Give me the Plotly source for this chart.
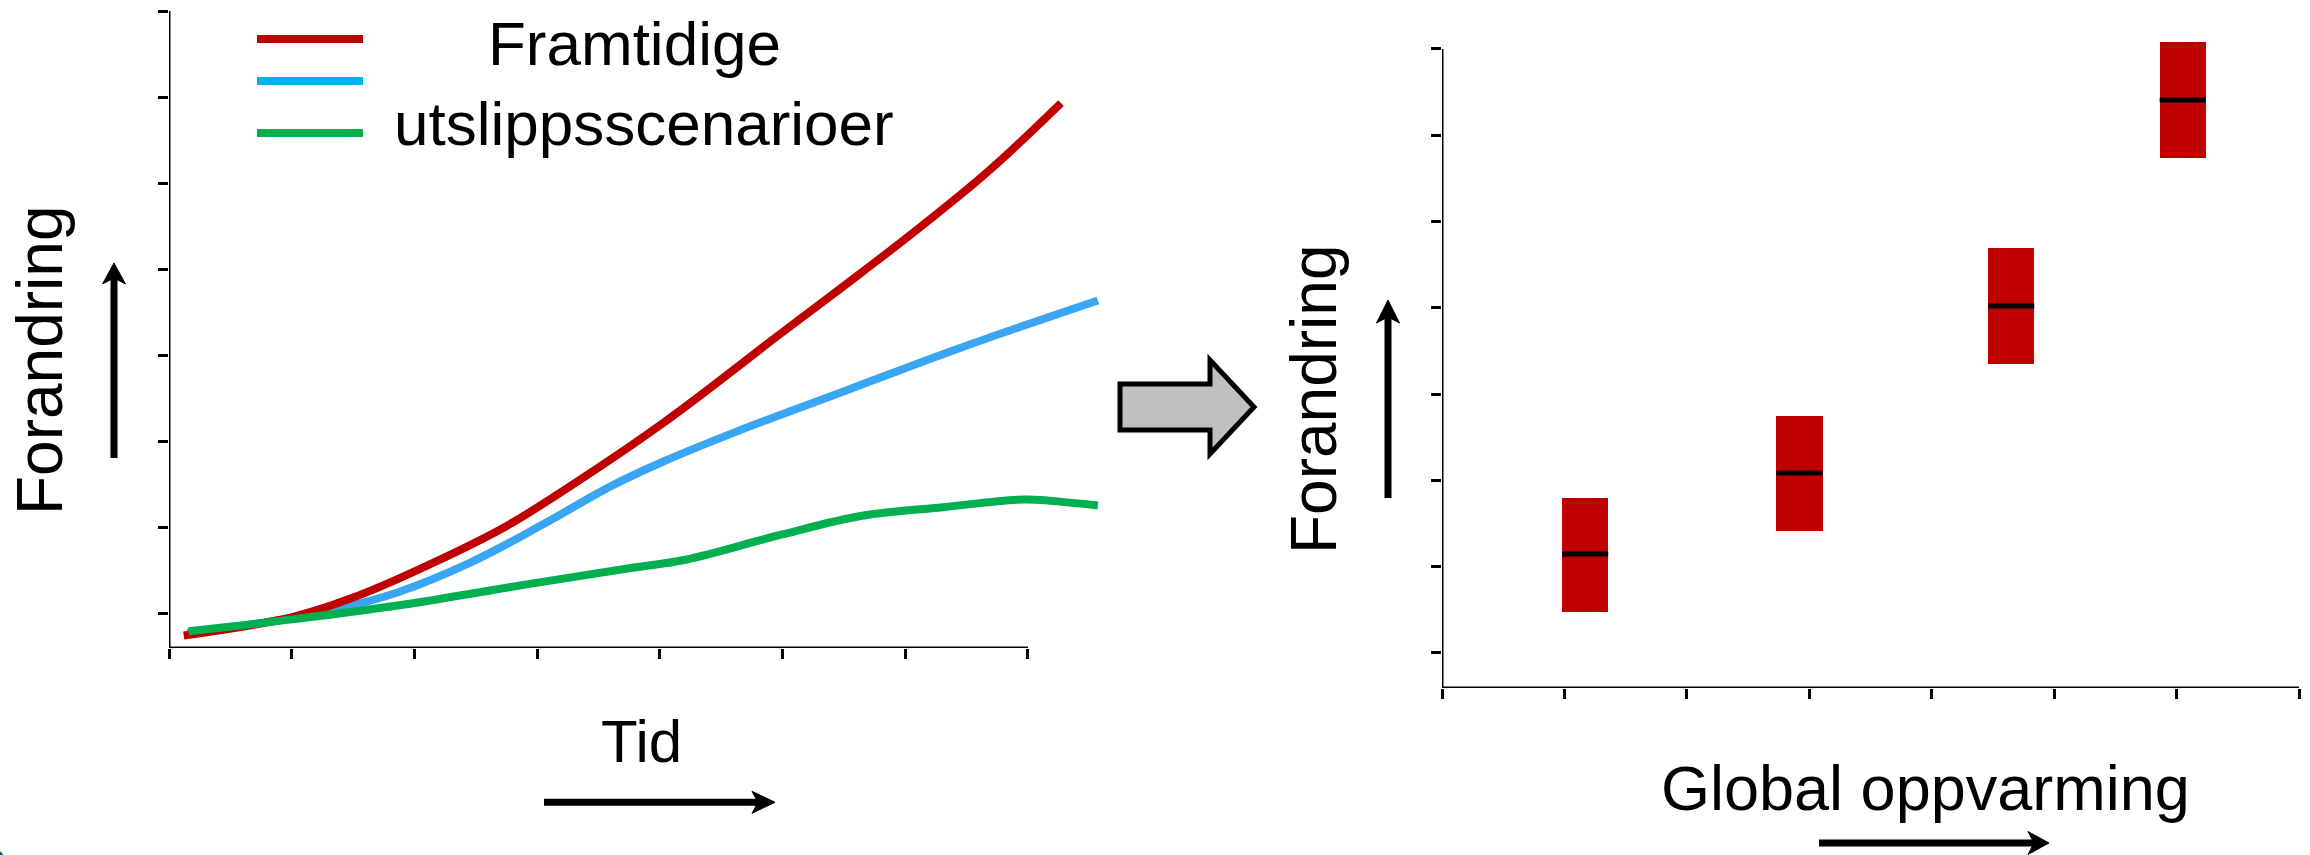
import plotly.graph_objects as go

# ---------------- data (in tick units) ----------------
red_x = [0.12, 1.02, 1.50, 1.98, 2.70, 3.19, 4.03, 4.99, 5.65, 6.13, 6.67, 7.27]
red_y = [0.75, 0.97, 1.19, 1.48, 1.98, 2.41, 3.22, 4.26, 4.97, 5.50, 6.13, 6.93]

blue_x = [0.15, 1.00, 1.38, 1.86, 2.46, 3.06, 3.61, 4.03, 4.63, 5.53, 6.43, 7.57]
blue_y = [0.78, 0.95, 1.06, 1.25, 1.60, 2.05, 2.49, 2.77, 3.12, 3.60, 4.08, 4.64]

green_x = [0.16, 1.02, 1.92, 2.94, 3.79, 4.21, 4.99, 5.65, 6.31, 6.97, 7.21, 7.57]
green_y = [0.80, 0.94, 1.11, 1.35, 1.54, 1.63, 1.92, 2.14, 2.24, 2.33, 2.31, 2.26]

bar_x = [1.17, 2.92, 4.65, 6.05]
bar_low = [1.475, 2.414, 4.349, 6.736]
bar_high = [2.80, 3.746, 5.693, 8.08]
bar_median = [2.147, 3.086, 5.021, 7.408]

left_xticks = [0, 1, 2, 3, 4, 5, 6, 7]
left_yticks = [1, 2, 3, 4, 5, 6, 7, 8]
right_xticks = [0, 1, 2, 3, 4, 5, 6, 7]
right_yticks = [1, 2, 3, 4, 5, 6, 7, 8]

legend_text_1 = "Framtidige"
legend_text_2 = "utslippsscenarioer"
y_title = "Forandring"
left_x_title = "Tid"
right_x_title = "Global oppvarming"

# ---------------- styling ----------------
W, H = 2310, 855
FONT = "Liberation Sans, Arial, sans-serif"
RED = "#C00000"
BLUE_LINE = "#3AA5F2"
BLUE_LEG = "#00B0F0"
GREEN = "#00B050"
LW = 8
SMOOTH = 1.1
BAR_W = 0.376


def fx(p):
    return p / W


def fy(p):
    return 1 - p / H


# left panel geometry (pixels)
L_X0, L_PPU_X = 169, 122.7
L_YB, L_YT = 648, 11
L_XR = [0, (1114 - 169) / L_PPU_X]
L_YR = [0.605, 8.0]
# right panel geometry
R_X0, R_X1 = 1442, 2299
R_YB, R_YT = 688, 30
R_XR = [0, 7]
R_YR = [0.594, 0.594 + (688 - 30) / 86.29]

fig = go.Figure()

fig.add_trace(go.Scatter(x=blue_x, y=blue_y, mode="lines",
                         line=dict(color=BLUE_LINE, width=LW, shape="spline", smoothing=SMOOTH),
                         xaxis="x", yaxis="y", hoverinfo="skip"))
fig.add_trace(go.Scatter(x=red_x, y=red_y, mode="lines",
                         line=dict(color=RED, width=LW, shape="spline", smoothing=SMOOTH),
                         xaxis="x", yaxis="y", hoverinfo="skip"))
fig.add_trace(go.Scatter(x=green_x, y=green_y, mode="lines",
                         line=dict(color=GREEN, width=LW, shape="spline", smoothing=SMOOTH),
                         xaxis="x", yaxis="y", hoverinfo="skip"))

bar_len = [h - l for h, l in zip(bar_high, bar_low)]
fig.add_trace(go.Bar(x=bar_x, y=bar_len, base=bar_low, width=BAR_W, marker=dict(color=RED, line=dict(width=0)),
                     xaxis="x2", yaxis="y2", hoverinfo="skip"))
bar_px = BAR_W * (R_X1 - R_X0) / 7
fig.add_trace(go.Scatter(x=bar_x, y=bar_median, mode="markers",
                         marker=dict(symbol="line-ew", size=bar_px / 1.4, color="black",
                                     line=dict(color="black", width=5)),
                         xaxis="x2", yaxis="y2", hoverinfo="skip"))

axis_common = dict(showgrid=False, zeroline=False, showline=False, showticklabels=False,
                   ticks="outside", ticklen=10, tickwidth=3, tickcolor="black", fixedrange=True)

fig.update_layout(
    width=W, height=H, margin=dict(l=0, r=0, t=0, b=0),
    paper_bgcolor="white", plot_bgcolor="rgba(0,0,0,0)", showlegend=False,
    xaxis=dict(domain=[fx(L_X0), fx(1114)], range=L_XR, tickmode="array", tickvals=left_xticks,
               anchor="y", **axis_common),
    yaxis=dict(domain=[fy(L_YB), fy(L_YT)], range=L_YR, tickmode="array", tickvals=left_yticks,
               anchor="x", **axis_common),
    xaxis2=dict(domain=[fx(R_X0), fx(R_X1)], range=R_XR, tickmode="array", tickvals=right_xticks,
                anchor="y2", **axis_common),
    yaxis2=dict(domain=[fy(R_YB), fy(R_YT)], range=R_YR, tickmode="array", tickvals=right_yticks,
                anchor="x2", **axis_common),
    bargap=0,
)

shapes = []
# axis lines
ax_line = dict(color="black", width=3)
shapes.append(dict(type="line", xref="x", yref="y", x0=0, x1=0, y0=L_YR[0], y1=left_yticks[-1], line=ax_line))
shapes.append(dict(type="line", xref="x", yref="y", x0=0, x1=left_xticks[-1], y0=L_YR[0], y1=L_YR[0], line=ax_line))
shapes.append(dict(type="line", xref="x2", yref="y2", x0=0, x1=0, y0=R_YR[0], y1=right_yticks[-1], line=ax_line))
shapes.append(dict(type="line", xref="x2", yref="y2", x0=0, x1=right_xticks[-1], y0=R_YR[0], y1=R_YR[0], line=ax_line))

# legend swatches
for col, yy in [(RED, 39), (BLUE_LEG, 81), (GREEN, 133)]:
    shapes.append(dict(type="line", xref="paper", yref="paper", x0=fx(257), x1=fx(363), y0=fy(yy), y1=fy(yy),
                       line=dict(color=col, width=8)))


def path(pts):
    s = "M " + " L ".join(f"{fx(a):.6f},{fy(b):.6f}" for a, b in pts) + " Z"
    return s


def up_arrow(cx, tip, bottom, L, hw, notch=6, w=7):
    shapes.append(dict(type="line", xref="paper", yref="paper", x0=fx(cx), x1=fx(cx),
                       y0=fy(bottom), y1=fy(tip + L - notch), line=dict(color="black", width=w)))
    shapes.append(dict(type="path", xref="paper", yref="paper",
                       path=path([(cx, tip), (cx + hw, tip + L), (cx, tip + L - notch), (cx - hw, tip + L)]),
                       fillcolor="black", line=dict(color="black", width=1)))


def right_arrow(cy, start, tip, L, hw, notch=6, w=7):
    shapes.append(dict(type="line", xref="paper", yref="paper", x0=fx(start), x1=fx(tip - L + notch),
                       y0=fy(cy), y1=fy(cy), line=dict(color="black", width=w)))
    shapes.append(dict(type="path", xref="paper", yref="paper",
                       path=path([(tip, cy), (tip - L, cy - hw), (tip - L + notch, cy), (tip - L, cy + hw)]),
                       fillcolor="black", line=dict(color="black", width=1)))


up_arrow(114, 263, 458, 21, 11.5)
up_arrow(1388, 300, 498, 23, 11.5)
right_arrow(802.3, 544, 775, 23, 11)
right_arrow(843, 1819, 2049, 21, 11.5)

# grey block arrow
shapes.append(dict(type="path", xref="paper", yref="paper",
                   path=path([(1120, 384), (1210, 384), (1210, 360), (1254, 407), (1210, 454), (1210, 430), (1120, 430)]),
                   fillcolor="#C0C0C0", line=dict(color="black", width=5)))

# small teal corner at bottom-left
shapes.append(dict(type="circle", xref="paper", yref="paper", x0=fx(-40), x1=fx(8), y0=fy(893), y1=fy(845),
                   fillcolor="#0E5A78", line=dict(width=0)))

fig.update_layout(shapes=shapes)

ann = []


def txt(s, x, y, size, angle=0):
    ann.append(dict(text=s, x=fx(x), y=fy(y), xref="paper", yref="paper", xanchor="center", yanchor="middle",
                    showarrow=False, textangle=angle, font=dict(family=FONT, size=size, color="black")))


txt(legend_text_1, 634, 43.5, 62)
txt(legend_text_2, 644, 123, 62)
txt(y_title, 40, 360, 64, -90)
txt(y_title, 1314, 399, 64, -90)
txt(left_x_title, 641, 741, 60)
txt(right_x_title, 1925, 788, 63)
fig.update_layout(annotations=ann)

fig.write_html("out.html", config={"displayModeBar": False, "staticPlot": True},
               post_script="document.body.style.margin='0';document.body.style.overflow='hidden';")
